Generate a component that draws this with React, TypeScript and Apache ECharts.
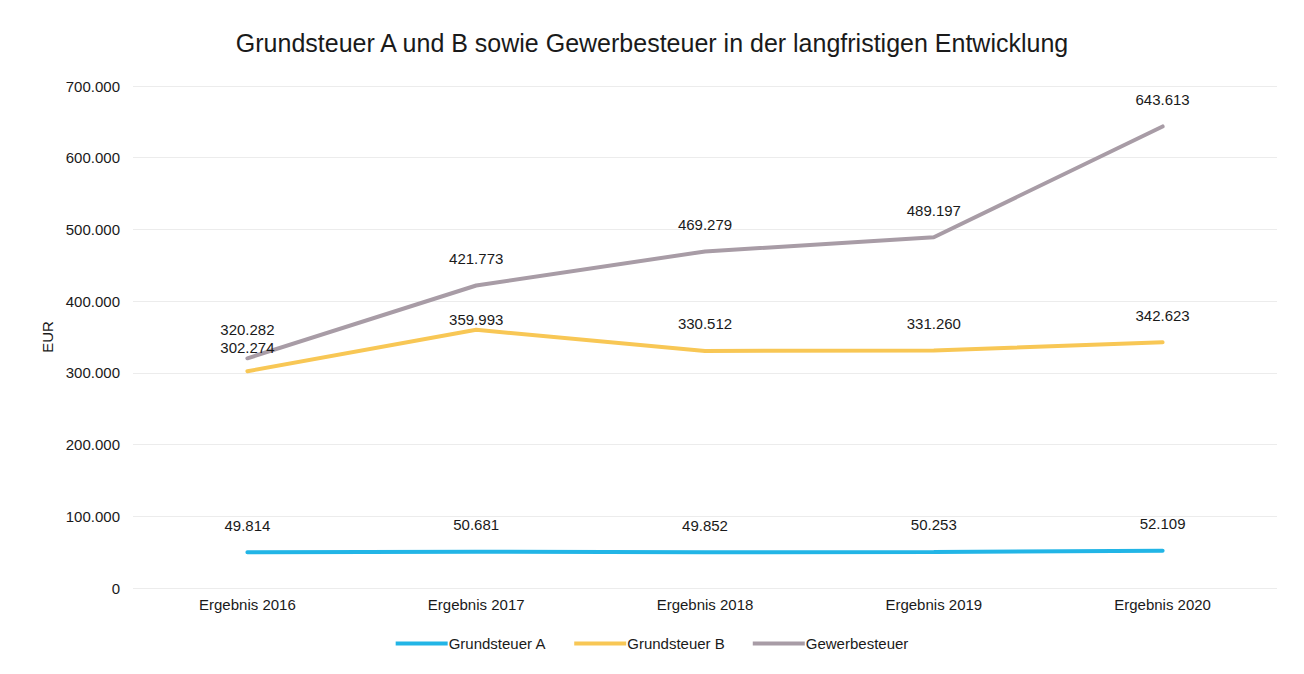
import React, { useEffect, useRef } from "react";
import * as echarts from "echarts";

const categories = ["Ergebnis 2016", "Ergebnis 2017", "Ergebnis 2018", "Ergebnis 2019", "Ergebnis 2020"];
const grundsteuerA = [49814, 50681, 49852, 50253, 52109];
const grundsteuerB = [302274, 359993, 330512, 331260, 342623];
const gewerbesteuer = [320282, 421773, 469279, 489197, 643613];
const yTicks = [0, 100000, 200000, 300000, 400000, 500000, 600000, 700000];

const fmt = (v: number) => {
  const s = Math.round(v).toString();
  return s.replace(/\B(?=(\d{3})+(?!\d))/g, ".");
};

const FONT = "Liberation Sans, Arial, sans-serif";

export default function App() {
  const ref = useRef<HTMLDivElement>(null);
  useEffect(() => {
    if (!ref.current) return;
    const chart = echarts.init(ref.current, undefined, { renderer: "svg" });
    const mkSeries = (name: string, data: number[], color: string, special?: Record<number, number>) => ({
      name,
      type: "line",
      data: data.map((v, i) =>
        special && special[i] !== undefined
          ? { value: v, label: { distance: special[i] } }
          : v
      ),
      symbol: "circle",
      symbolSize: 1,
      showSymbol: true,
      lineStyle: { color, width: 4, cap: "round" },
      itemStyle: { color },
      label: {
        show: true,
        position: "top",
        distance: 19,
        color: "#1a1a1a",
        fontFamily: FONT,
        fontSize: 15,
        formatter: (p: any) => fmt(p.value),
      },
      emphasis: { disabled: true },
    });
    chart.setOption({
      animation: false,
      backgroundColor: "#ffffff",
      title: {
        text: "Grundsteuer A und B sowie Gewerbesteuer in der langfristigen Entwicklung",
        left: "center",
        top: 17,
        textStyle: { fontFamily: FONT, fontSize: 25, fontWeight: "normal", color: "#1a1a1a" },
      },
      grid: { left: 125, right: 19, top: 78, bottom: 78 },
      xAxis: {
        type: "category",
        data: categories,
        boundaryGap: true,
        axisLine: { show: false },
        axisTick: { show: false },
        axisLabel: { color: "#1a1a1a", fontFamily: FONT, fontSize: 15, margin: 9 },
      },
      yAxis: {
        type: "value",
        min: yTicks[0],
        max: yTicks[yTicks.length - 1],
        interval: 100000,
        name: "EUR",
        nameLocation: "middle",
        nameRotate: 90,
        nameGap: 78,
        nameTextStyle: { color: "#1a1a1a", fontFamily: FONT, fontSize: 15 },
        axisLine: { show: false },
        axisTick: { show: false },
        axisLabel: { color: "#1a1a1a", fontFamily: FONT, fontSize: 15, margin: 13, formatter: (v: number) => fmt(v) },
        splitLine: { lineStyle: { color: "#ececec", width: 1 } },
      },
      legend: {
        bottom: 10,
        left: "center",
        itemWidth: 52,
        itemHeight: 4,
        itemGap: 28,
        icon: "rect",
        textStyle: { color: "#1a1a1a", fontFamily: FONT, fontSize: 15, padding: [0, 0, 0, -4] },
        data: ["Grundsteuer A", "Grundsteuer B", "Gewerbesteuer"],
      },
      series: [
        mkSeries("Grundsteuer A", grundsteuerA, "#22b5e6"),
        mkSeries("Grundsteuer B", grundsteuerB, "#f8c755", { 0: 16, 1: 2 }),
        mkSeries("Gewerbesteuer", gewerbesteuer, "#a89ca6", { 0: 21 }),
      ],
    });
    return () => chart.dispose();
  }, []);
  return <div ref={ref} style={{ width: 1288, height: 658 }} />;
}
